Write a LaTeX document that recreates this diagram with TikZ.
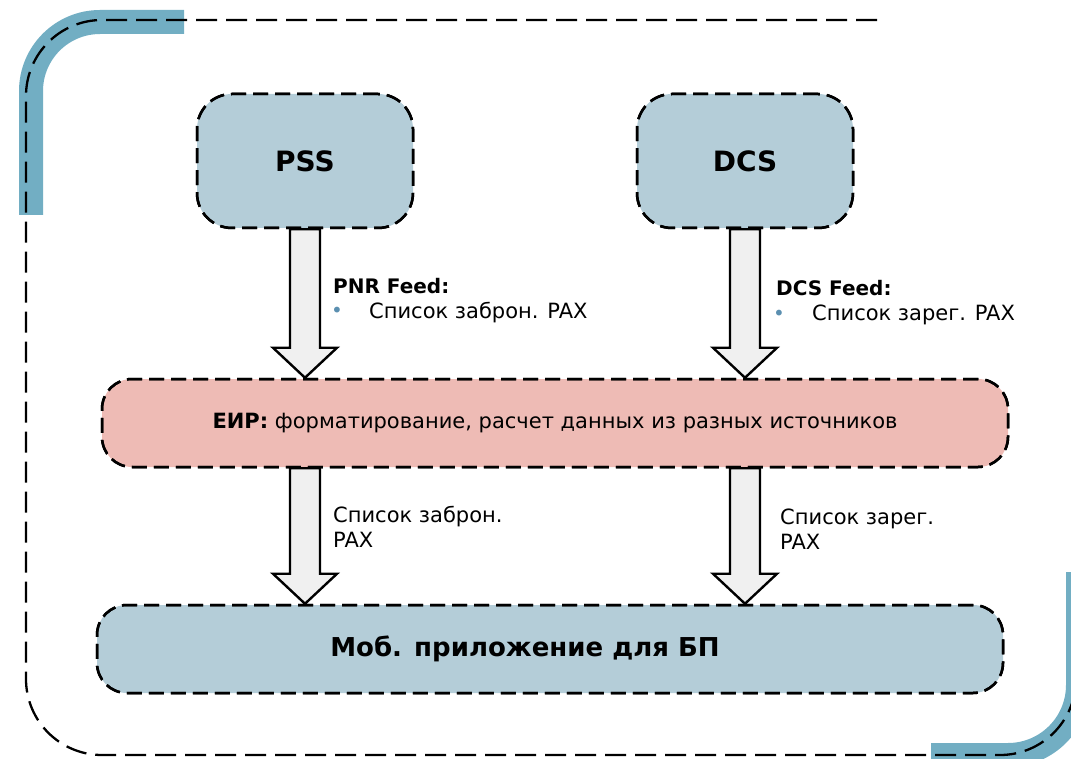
\documentclass[tikz,border=0pt]{standalone}
\usepackage{fontspec}
\setmainfont{DejaVu Sans}
\usetikzlibrary{calc}
\definecolor{boxblue}{HTML}{B4CDD8}
\definecolor{bandcol}{HTML}{72AEC3}
\definecolor{pinkbox}{HTML}{EEBBB5}
\definecolor{arrowfill}{HTML}{F0F0F0}
\definecolor{bulletcol}{HTML}{5B8FB0}
\newcommand{\blockarrow}[2]{%
  \draw[blockarr] let \p1=(#1), \p2=(#2) in
    ({\x1-15pt},{\y1}) -- ({\x1-15pt},{\y2+30pt}) -- ({\x1-32pt},{\y2+30pt}) --
    ({\x1},{\y2}) -- ({\x1+32pt},{\y2+30pt}) -- ({\x1+15pt},{\y2+30pt}) --
    ({\x1+15pt},{\y1}) -- cycle;}
\begin{document}
\begin{tikzpicture}[x=1pt,y=-1pt,
  framestyle/.style={line width=2.3pt, dash pattern=on 21pt off 9pt},
  bandline/.style={line width=24pt, draw=bandcol},
  box/.style={draw, line width=2.5pt, dash pattern=on 15pt off 7pt,
    rounded corners=#1, inner sep=0pt, align=center},
  box/.default=30pt,
  blockarr/.style={draw, line width=2.4pt, fill=arrowfill, line join=miter},
  lbl/.style={inner sep=0pt, font=\fontsize{21}{25}\selectfont, align=left},
  bfl/.style={inner sep=0pt, font=\fontsize{20}{25}\selectfont\bfseries},
  bul/.style={inner sep=0pt, text=bulletcol, font=\fontsize{20}{20}\selectfont}
]
\useasboundingbox (0,0) rectangle (1071,759);
% decorative bands
\draw[bandline, rounded corners=69pt] (31,215) -- (31,22) -- (184,22);
\draw[bandline, rounded corners=70pt] (1078,572) -- (1078,755) -- (931,755);
% outer dashed frame
\draw[framestyle, rounded corners=76pt] (877,20) -- (26,20) -- (26,755) -- (1076,755) -- (1076,520);
% boxes
\node[box=35pt, fill=boxblue, minimum width=216pt, minimum height=134pt,
  font=\fontsize{28}{30}\selectfont\bfseries] (pss) at (305,161) {\raisebox{-3pt}{PSS}};
\node[box=35pt, fill=boxblue, minimum width=216pt, minimum height=134pt,
  font=\fontsize{28}{30}\selectfont\bfseries] (dcs) at (745,161) {DCS};
\node[box, fill=pinkbox, minimum width=906pt, minimum height=88pt,
  font=\fontsize{21}{24}\selectfont] (eir) at (555,423)
  {\textbf{ЕИР:} форматирование, расчет данных из разных источников};
\node[box, fill=boxblue, minimum width=906pt, minimum height=88pt,
  font=\fontsize{26}{28}\selectfont\bfseries] (mob) at (550,649)
  {\hspace*{-50pt}Моб. приложение для БП};
% block arrows
\blockarrow{pss.south}{pss.south |- eir.north}
\blockarrow{dcs.south}{dcs.south |- eir.north}
\blockarrow{pss.south |- eir.south}{pss.south |- mob.north}
\blockarrow{dcs.south |- eir.south}{dcs.south |- mob.north}
% redraw borders over arrow tops
\node[box=35pt, minimum width=216pt, minimum height=134pt] at (pss.center) {};
\node[box=35pt, minimum width=216pt, minimum height=134pt] at (dcs.center) {};
\node[box, minimum width=906pt, minimum height=88pt] at (eir.center) {};
\node[box, minimum width=906pt, minimum height=88pt] at (mob.center) {};
% labels
\node[bfl, anchor=base west] (pnr) at (333,294) {PNR Feed:};
\node[bul] (b1) at (337,312) {•};
\node[lbl, anchor=base west] (l1) at (369,319) {Список заброн. PAX};
\node[bfl, anchor=base west] (dcsf) at (776,296) {DCS Feed:};
\node[bul] (b2) at (779,315) {•};
\node[lbl, anchor=base west] (l2) at (812,321) {Список зарег. PAX};
\node[lbl, anchor=base west] (l3) at (333,547) {Список заброн.\\PAX};
\node[lbl, anchor=base west] (l4) at (780,549) {Список зарег.\\PAX};
\end{tikzpicture}
\end{document}
